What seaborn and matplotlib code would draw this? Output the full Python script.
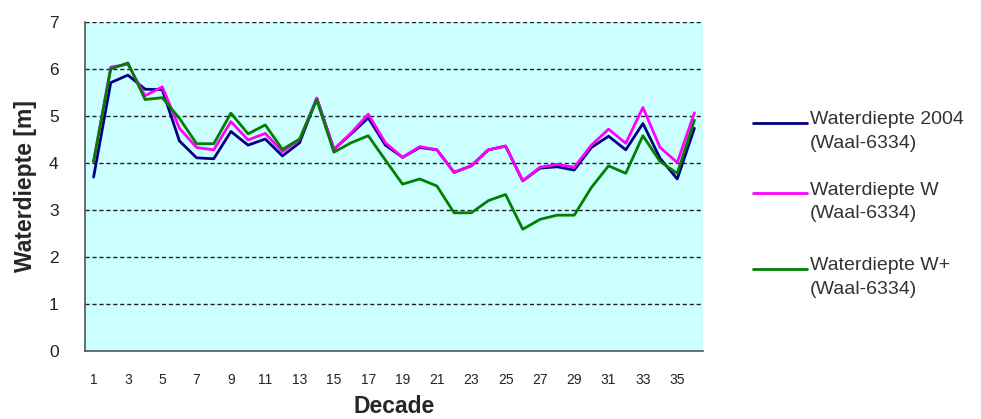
import numpy as np
import pandas as pd
import matplotlib
matplotlib.use("Agg")
import matplotlib.pyplot as plt
from matplotlib.lines import Line2D
import seaborn as sns

decades = list(range(1, 37))
waterdiepte_2004 = [3.70, 5.71, 5.87, 5.57, 5.56, 4.47, 4.11, 4.09, 4.67, 4.38,
                    4.51, 4.15, 4.43, 5.38, 4.29, 4.62, 4.96, 4.38, 4.12, 4.33,
                    4.28, 3.80, 3.94, 4.28, 4.36, 3.62, 3.89, 3.92, 3.85, 4.33,
                    4.57, 4.28, 4.84, 4.10, 3.66, 4.74]
waterdiepte_w = [4.03, 6.04, 6.10, 5.43, 5.62, 4.74, 4.33, 4.28, 4.88, 4.49,
                 4.63, 4.24, 4.50, 5.38, 4.29, 4.64, 5.04, 4.43, 4.12, 4.35,
                 4.28, 3.80, 3.94, 4.28, 4.36, 3.62, 3.91, 3.97, 3.91, 4.38,
                 4.72, 4.42, 5.18, 4.33, 4.01, 5.07]
waterdiepte_wplus = [4.03, 6.00, 6.13, 5.35, 5.39, 4.95, 4.41, 4.41, 5.06, 4.62,
                     4.81, 4.29, 4.51, 5.34, 4.23, 4.43, 4.58, 4.06, 3.55, 3.66,
                     3.51, 2.94, 2.94, 3.20, 3.33, 2.59, 2.80, 2.89, 2.89, 3.48,
                     3.94, 3.78, 4.58, 4.03, 3.78, 4.91]
series_names = ["Waterdiepte 2004", "Waterdiepte W", "Waterdiepte W+"]
series_sub = "(Waal-6334)"
colors = ["#000080", "#FF00FF", "#008000"]
xtick_labels = [str(d) for d in range(1, 37, 2)]

df = pd.DataFrame({
    "Decade": decades * 3,
    "Waterdiepte": waterdiepte_2004 + waterdiepte_w + waterdiepte_wplus,
    "Serie": [series_names[0]] * 36 + [series_names[1]] * 36 + [series_names[2]] * 36,
})

sns.set_style("white")
plt.rcParams["font.family"] = ["Liberation Sans", "DejaVu Sans"]

W, H = 981, 419
fig = plt.figure(figsize=(W / 100, H / 100), dpi=100)
ax = fig.add_axes([85 / W, 1 - 351 / H, (703 - 85) / W, (351 - 22) / H])
ax.set_facecolor("#CCFFFF")

sns.lineplot(data=df, x="Decade", y="Waterdiepte", hue="Serie",
             palette=colors, linewidth=2.0, ax=ax, legend=False)

ax.set_xlim(0.5, 36.5)
ax.set_ylim(0, 7)
ax.set_yticks(range(0, 8))
ax.set_yticklabels([str(v) for v in range(0, 8)], fontsize=12.5, color="#222222")
ax.set_xticks(list(range(1, 37, 2)))
ax.set_xticklabels(xtick_labels, fontsize=10, color="#222222")
ax.set_xticks(np.arange(0.5, 37, 1.0), minor=True)
ax.tick_params(axis="x", which="major", length=0, pad=16)
ax.tick_params(axis="x", which="minor", length=4, width=1, color="#444444", direction="out")
ax.tick_params(axis="y", which="major", length=5, width=1, color="#444444", direction="out", pad=14)

ax.yaxis.grid(True, linestyle=(0, (3, 2)), color="#222222", linewidth=1.0)
ax.xaxis.grid(False)
ax.set_axisbelow(True)
for s in ["top", "right"]:
    ax.spines[s].set_visible(False)
for s in ["left", "bottom"]:
    ax.spines[s].set_color("#555555")
    ax.spines[s].set_linewidth(1.2)

ax.set_xlabel("Decade", fontsize=16.5, fontweight="bold")
ax.xaxis.set_label_coords(0.5, -0.135)
ax.set_ylabel("Waterdiepte [m]", fontsize=16.5, fontweight="bold")
ax.yaxis.set_label_coords(-0.078, 0.5)

# legend drawn beside the plot, handle aligned with the first text line
handle_y = [123, 193, 269]
for name, col, yy in zip(series_names, colors, handle_y):
    fig.add_artist(Line2D([753 / W, 807 / W], [1 - yy / H, 1 - yy / H],
                          color=col, linewidth=2.0, transform=fig.transFigure))
    fig.text(810 / W, 1 - (yy - 3) / H, name, fontsize=14, color="#333333",
             ha="left", va="center")
    fig.text(810 / W, 1 - (yy + 20) / H, series_sub, fontsize=14, color="#333333",
             ha="left", va="center")

fig.savefig("out.png", dpi=100)
